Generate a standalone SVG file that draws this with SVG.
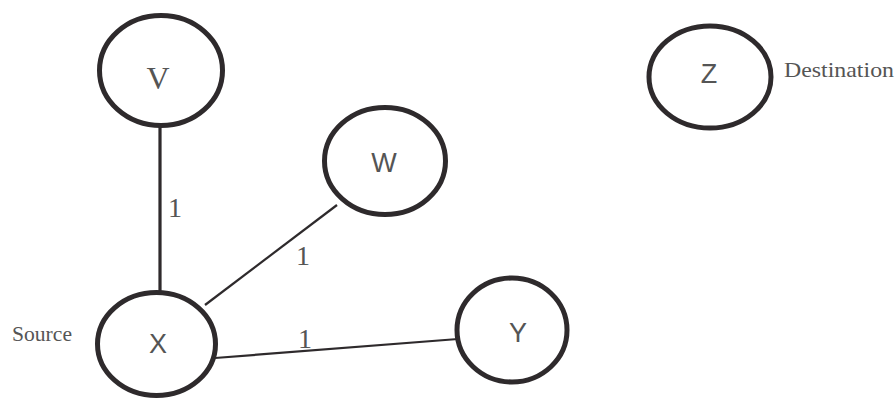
<svg xmlns="http://www.w3.org/2000/svg" width="895" height="401" viewBox="0 0 895 401">
<style>
.node{fill:#fff;stroke:#2e2a2c;stroke-width:5}
.edge{stroke:#2e2a2c;stroke-width:2.2;fill:none}
.sans{font-family:"Liberation Sans",Arial,sans-serif;font-size:27px;fill:#555;text-anchor:middle}
.serif{font-family:"Liberation Serif","Times New Roman",serif;fill:#555}
.w{font-size:28px}
.lab{font-family:"Liberation Serif","Times New Roman",serif;font-size:21px;fill:#555}
</style>
<rect width="895" height="401" fill="#fff"/>
<g id="edges">
<line class="edge" x1="160" y1="125" x2="160" y2="292" style="stroke-width:3.2"/>
<line class="edge" x1="205" y1="305" x2="337" y2="205"/>
<line class="edge" x1="215" y1="358" x2="458" y2="339"/>
<text class="serif w" x="175" y="217" text-anchor="middle">1</text>
<text class="serif w" x="303" y="265" text-anchor="middle">1</text>
<text class="serif w" x="305" y="348" text-anchor="middle">1</text>
</g>
<g id="V"><ellipse class="node" cx="161" cy="70.5" rx="61.5" ry="55"/><text class="serif" x="158" y="89" font-size="32" text-anchor="middle">V</text></g>
<g id="W"><ellipse class="node" cx="385" cy="161" rx="60.5" ry="53.5"/><text class="sans" x="384" y="172">W</text></g>
<g id="Z"><ellipse class="node" cx="710" cy="77" rx="61" ry="51"/><text class="sans" x="709" y="83">Z</text></g>
<g id="X"><ellipse class="node" cx="156.5" cy="344" rx="59" ry="51.5"/><text class="sans" x="158" y="353">X</text></g>
<g id="Y"><ellipse class="node" cx="512" cy="330" rx="55" ry="52"/><text class="sans" x="518" y="342">Y</text></g>
<text class="lab" x="784" y="77" textLength="110" lengthAdjust="spacingAndGlyphs">Destination</text>
<text class="lab" x="12" y="341" textLength="60" lengthAdjust="spacingAndGlyphs">Source</text>
</svg>
